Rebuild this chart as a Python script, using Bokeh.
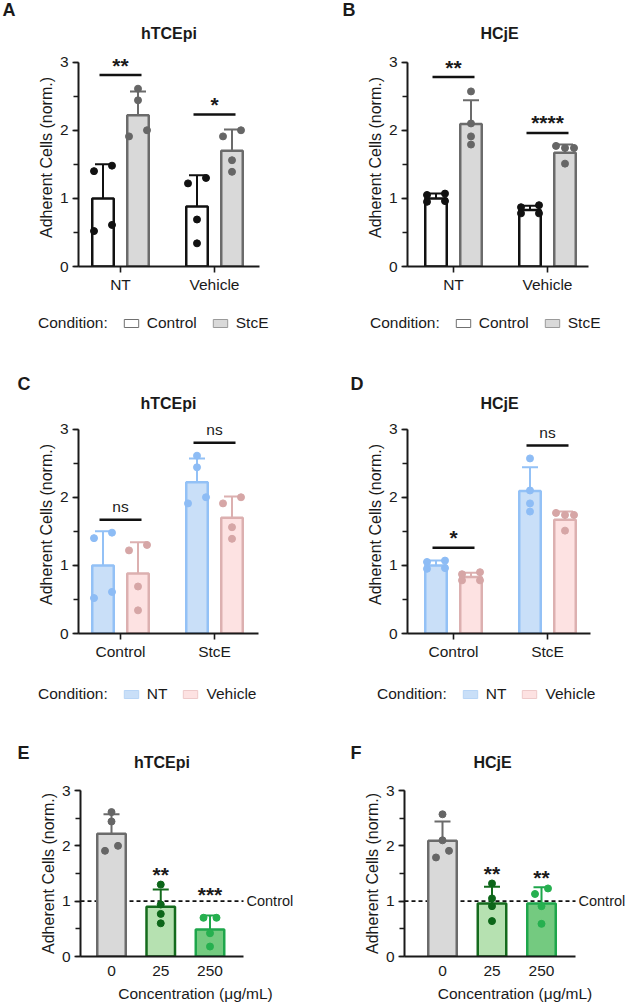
import numpy as np
from bokeh.plotting import figure
from bokeh.models import (Range1d, FixedTicker, SingleIntervalTicker, Legend, LegendItem)
from bokeh.layouts import row, column
from bokeh.embed import file_html
from bokeh.resources import INLINE
from bokeh.core.properties import value

# ---------------- data ----------------
conditions = ["NT", "Vehicle"]
treatments = ["Control", "StcE"]
concentrations = ["0", "25", "250"]

# hTCEpi, indexed by condition (NT, Vehicle)
htce_control_mean = [1.00, 0.88]
htce_control_sd = [0.50, 0.46]
htce_control_pts = [[1.40, 1.48, 0.52, 0.61], [1.22, 1.30, 0.69, 0.34]]
htce_stce_mean = [2.22, 1.70]
htce_stce_sd = [0.35, 0.31]
htce_stce_pts = [[2.61, 2.44, 1.91, 2.00], [1.91, 2.00, 1.56, 1.39]]

# HCjE, indexed by condition (NT, Vehicle)
hcje_control_mean = [1.00, 0.83]
hcje_control_sd = [0.07, 0.06]
hcje_control_pts = [[1.05, 1.07, 0.95, 0.96], [0.87, 0.90, 0.78, 0.78]]
hcje_stce_mean = [2.09, 1.67]
hcje_stce_sd = [0.35, 0.12]
hcje_stce_pts = [[2.57, 2.10, 1.91, 1.79], [1.77, 1.74, 1.74, 1.51]]

# significance marks
htce_cond_sig = ["**", "*"]
htce_cond_sig_y = [2.81, 2.23]
hcje_cond_sig = ["**", "****"]
hcje_cond_sig_y = [2.78, 1.96]
htce_treat_sig = ["ns", "ns"]
htce_treat_sig_y = [1.67, 2.80]
hcje_treat_sig = ["*", "ns"]
hcje_treat_sig_y = [1.26, 2.76]

# dose response (25, 250 ug/mL); the 0 bar is the StcE / NT data
htce_dose_mean = [0.90, 0.49]
htce_dose_sd = [0.31, 0.25]
htce_dose_pts = [[1.30, 0.94, 0.77, 0.60], [0.70, 0.70, 0.42, 0.18]]
htce_dose_sig = ["**", "***"]
htce_dose_sig_y = [1.52, 1.15]
hcje_dose_mean = [0.96, 0.96]
hcje_dose_sd = [0.30, 0.29]
hcje_dose_pts = [[1.32, 1.05, 0.91, 0.64], [1.13, 1.23, 0.91, 0.59]]
hcje_dose_sig = ["**", "**"]
hcje_dose_sig_y = [1.53, 1.46]
control_level = 1.0

# ---------------- styles ----------------
FONT = "Liberation Sans"
TXT = "#1a1a1a"
FS = "15.5px"
S_CTRL = dict(fill="#ffffff", line="#111111", pt="#111111", sw_line="#707070")
S_STCE = dict(fill="#d9d9d9", line="#6b6b6b", pt="#666666", sw_line="#9a9a9a")
S_NT = dict(fill="#c9dff8", line="#93c1f6", pt="#8dbcf5", sw_line="#b8d5f6")
S_VEH = dict(fill="#fde2e2", line="#dcb0b0", pt="#d6a6a6", sw_line="#eecaca")
S_D25 = dict(fill="#b6e1b1", line="#146b1d", pt="#0c6619")
S_D250 = dict(fill="#74ca80", line="#1ea64b", pt="#26b04f")
S_BLANK = dict(fill="#ffffff", sw_line="#ffffff", alpha=0)

# layout (page pixels): column x-origin/width, plot top/height, frame edges, tick positions
GEO = {
    "A": dict(ox=0, W=310, oy=48, H=252, L=78, R=259, FR=259, T=48, B=266, ticks=[120, 214]),
    "B": dict(ox=310, W=315, oy=48, H=252, L=407, R=588, FR=588, T=48, B=266, ticks=[453, 547]),
    "C": dict(ox=0, W=310, oy=415, H=261, L=78, R=258, FR=258, T=415, B=633, ticks=[120, 214]),
    "D": dict(ox=310, W=315, oy=415, H=261, L=407, R=590, FR=590, T=415, B=633, ticks=[453, 547]),
    "E": dict(ox=0, W=310, oy=782, H=224, L=80, R=243, FR=310, T=790, B=956,
              ticks=[111, 160.5, 209.5]),
    "F": dict(ox=310, W=315, oy=782, H=224, L=404, R=575, FR=625, T=790, B=956,
              ticks=[442, 491.5, 541]),
}


def no_align(p):
    try:
        p.frame_align = False
    except Exception:
        pass
    return p


def swarm(vals, ppy, step_units, thresh_px=7.0):
    order = sorted(range(len(vals)), key=lambda k: vals[k])
    clusters = []
    for k in order:
        if clusters and (vals[k] - vals[clusters[-1][-1]]) * ppy < thresh_px:
            clusters[-1].append(k)
        else:
            clusters.append([k])
    offs = [0.0] * len(vals)
    for c in clusters:
        n = len(c)
        if n == 1:
            continue
        if n % 2 == 0:
            pat = [-1, 1] * (n // 2)
        else:
            pat = [0, 1, -1] + [-1, 1] * ((n - 3) // 2)
        for k, s in zip(c, pat):
            offs[k] = s * step_units
    return offs


def blank_fig(W, H, xr=(0, 1), yr=(0, 1)):
    p = figure(width=W, height=H, x_range=Range1d(*xr), y_range=Range1d(*yr), title=None,
               x_axis_type=None, y_axis_type=None, output_backend="svg",
               toolbar_location=None, min_border=0)
    p.outline_line_color = None
    p.background_fill_color = "white"
    p.border_fill_color = "white"
    return no_align(p)


def header(W, H, letter, lx, ly, title, tx, ty):
    p = blank_fig(W, H, (0, W), (H, 0))
    p.text(x=[lx], y=[ly], text=[letter], text_font=value(FONT), text_font_size="18px",
           text_font_style="bold", text_align="left", text_baseline="middle", text_color=TXT)
    p.text(x=[tx], y=[ty], text=[title], text_font=value(FONT), text_font_size="16px",
           text_font_style="bold", text_align="center", text_baseline="middle", text_color=TXT)
    return p


def footer(W, H, left, labels, styles):
    p = blank_fig(W, H)
    items = []
    for lab, s in zip(["Condition:"] + labels, [S_BLANK] + styles):
        alpha = s.get("alpha", 1)
        r = p.vbar(x=np.array([np.nan]), top=np.array([np.nan]), width=0.1,
                   fill_color=s["fill"], line_color=s["sw_line"], line_width=1,
                   fill_alpha=alpha, line_alpha=alpha)
        items.append(LegendItem(label=lab, renderers=[r]))
    leg = Legend(items=items, orientation="horizontal", location="left", margin=left,
                 glyph_width=18, glyph_height=10, label_standoff=7, spacing=14,
                 padding=0, border_line_alpha=0, background_fill_alpha=0,
                 label_text_font=FONT, label_text_font_size=FS, label_text_color=TXT,
                 label_height=10)
    p.add_layout(leg)
    return p


def make_panel(key, labels, ymax, xticks_out):
    g = GEO[key]
    t = g["ticks"]
    ppx = (t[-1] - t[0]) / (len(t) - 1)
    x0 = -(t[0] - g["L"]) / ppx
    x_axis_end = x0 + (g["R"] - g["L"]) / ppx
    x1 = x0 + (g["FR"] - g["L"]) / ppx
    ppy = (g["B"] - g["T"]) / ymax
    p = figure(width=g["W"], height=g["H"], x_range=Range1d(x0, x1), y_range=Range1d(0, ymax),
               title=None, output_backend="svg", toolbar_location=None,
               min_border_left=g["L"] - g["ox"], min_border_right=g["ox"] + g["W"] - g["FR"],
               min_border_top=g["T"] - g["oy"], min_border_bottom=g["oy"] + g["H"] - g["B"])
    no_align(p)
    p.outline_line_color = None
    p.xgrid.visible = False
    p.ygrid.visible = False
    p.background_fill_color = "white"
    p.border_fill_color = "white"
    for ax in (p.xaxis[0], p.yaxis[0]):
        ax.axis_line_width = 2
        ax.axis_line_color = TXT
        ax.major_tick_line_width = 1.6
        ax.major_tick_line_color = TXT
        ax.minor_tick_line_width = 1.6
        ax.minor_tick_line_color = TXT
        ax.major_tick_in = 0
        ax.minor_tick_in = 0
        ax.major_label_text_font = FONT
        ax.major_label_text_font_size = FS
        ax.major_label_text_color = TXT
        ax.axis_label_text_font = FONT
        ax.axis_label_text_font_size = FS
        ax.axis_label_text_font_style = "normal"
        ax.axis_label_text_color = TXT
    ya = p.yaxis[0]
    ya.ticker = SingleIntervalTicker(interval=1, num_minor_ticks=2)
    ya.bounds = (0, 3)
    ya.major_tick_out = 6
    ya.minor_tick_out = 5
    ya.major_label_standoff = 4
    ya.axis_label = "Adherent Cells (norm.)"
    ya.axis_label_text_font_size = "16px"
    ya.axis_label_standoff = 2
    xa = p.xaxis[0]
    xa.ticker = FixedTicker(ticks=list(range(len(labels))), minor_ticks=[])
    xa.major_label_overrides = {i: lab for i, lab in enumerate(labels)}
    xa.major_tick_out = xticks_out
    xa.major_label_standoff = 3 if xticks_out else 9
    xa.bounds = (x0, x_axis_end)
    return p, ppx, ppy, x0, x_axis_end


def draw_series(p, xs, means, sds, pts, style, bw, capw, ppy, step):
    tops = [m + s for m, s in zip(means, sds)]
    p.vbar(x=xs, top=means, bottom=0, width=bw, fill_color=style["fill"],
           line_color=style["line"], line_width=2.5)
    p.segment(x0=xs, y0=means, x1=xs, y1=tops, line_color=style["line"], line_width=2)
    p.segment(x0=[x - capw / 2 for x in xs], y0=tops, x1=[x + capw / 2 for x in xs], y1=tops,
              line_color=style["line"], line_width=2)
    px, py = [], []
    for x, vals in zip(xs, pts):
        for o, v in zip(swarm(vals, ppy, step), vals):
            px.append(x + o)
            py.append(v)
    p.scatter(px, py, size=7, marker="circle", fill_color=style["pt"], line_color=style["pt"])


def grouped_plot(key, labels, s1, s2, sig, sig_y):
    p, ppx, ppy, x0, xe = make_panel(key, labels, 3.2, 6)
    d = 17.5 / ppx
    bw = 21.5 / ppx
    capw = 16 / ppx
    step = 9 / ppx
    n = len(labels)
    draw_series(p, [i - d for i in range(n)], s1[0], s1[1], s1[2], s1[3], bw, capw, ppy, step)
    draw_series(p, [i + d for i in range(n)], s2[0], s2[1], s2[2], s2[3], bw, capw, ppy, step)
    ext = 3.5 / ppx
    p.segment(x0=[i - d - ext for i in range(n)], y0=sig_y, x1=[i + d + ext for i in range(n)],
              y1=sig_y, line_color="#111111", line_width=2.5)
    stars = [k for k in range(n) if sig[k] != "ns"]
    nss = [k for k in range(n) if sig[k] == "ns"]
    if stars:
        p.text(x=stars, y=[sig_y[k] for k in stars], text=[sig[k] for k in stars],
               text_font=value(FONT), text_font_size="21px", text_font_style="bold",
               text_align="center", text_baseline="alphabetic", y_offset=-10, text_color=TXT)
    if nss:
        p.text(x=nss, y=[sig_y[k] for k in nss], text=[sig[k] for k in nss],
               text_font=value(FONT), text_font_size=FS, text_align="center",
               text_baseline="alphabetic", y_offset=-13, text_color=TXT)
    return p


def dose_plot(key, base_mean, base_sd, base_pts, mean, sd, pts, sig, sig_y):
    p, ppx, ppy, x0, xe = make_panel(key, concentrations, 3.0, 0)
    p.xaxis[0].axis_label = "Concentration (\u03bcg/mL)"
    p.xaxis[0].axis_label_standoff = 6
    bw = 28.5 / ppx
    capw = 16 / ppx
    step = 6.5 / ppx
    p.segment(x0=[x0], y0=[control_level], x1=[xe], y1=[control_level], line_color="#111111",
              line_width=1.8, line_dash="4 3")
    draw_series(p, [0], [base_mean], [base_sd], [base_pts], S_STCE, bw, capw, ppy, step)
    draw_series(p, [1], [mean[0]], [sd[0]], [pts[0]], S_D25, bw, capw, ppy, step)
    draw_series(p, [2], [mean[1]], [sd[1]], [pts[1]], S_D250, bw, capw, ppy, step)
    p.text(x=[1, 2], y=sig_y, text=sig, text_font=value(FONT), text_font_size="21px",
           text_font_style="bold", text_align="center", text_baseline="middle", y_offset=2,
           text_color=TXT)
    p.text(x=[xe], y=[control_level], text=["Control"], x_offset=3, text_font=value(FONT),
           text_font_size="14.5px", text_align="left", text_baseline="middle", text_color=TXT)
    return p


# ---------------- panels ----------------
pA = grouped_plot("A", conditions,
                  (htce_control_mean, htce_control_sd, htce_control_pts, S_CTRL),
                  (htce_stce_mean, htce_stce_sd, htce_stce_pts, S_STCE),
                  htce_cond_sig, htce_cond_sig_y)
pB = grouped_plot("B", conditions,
                  (hcje_control_mean, hcje_control_sd, hcje_control_pts, S_CTRL),
                  (hcje_stce_mean, hcje_stce_sd, hcje_stce_pts, S_STCE),
                  hcje_cond_sig, hcje_cond_sig_y)
pC = grouped_plot("C", treatments,
                  ([htce_control_mean[0], htce_stce_mean[0]], [htce_control_sd[0], htce_stce_sd[0]],
                   [htce_control_pts[0], htce_stce_pts[0]], S_NT),
                  ([htce_control_mean[1], htce_stce_mean[1]], [htce_control_sd[1], htce_stce_sd[1]],
                   [htce_control_pts[1], htce_stce_pts[1]], S_VEH),
                  htce_treat_sig, htce_treat_sig_y)
pD = grouped_plot("D", treatments,
                  ([hcje_control_mean[0], hcje_stce_mean[0]], [hcje_control_sd[0], hcje_stce_sd[0]],
                   [hcje_control_pts[0], hcje_stce_pts[0]], S_NT),
                  ([hcje_control_mean[1], hcje_stce_mean[1]], [hcje_control_sd[1], hcje_stce_sd[1]],
                   [hcje_control_pts[1], hcje_stce_pts[1]], S_VEH),
                  hcje_treat_sig, hcje_treat_sig_y)
pE = dose_plot("E", htce_stce_mean[0], htce_stce_sd[0], htce_stce_pts[0],
               htce_dose_mean, htce_dose_sd, htce_dose_pts, htce_dose_sig, htce_dose_sig_y)
pF = dose_plot("F", hcje_stce_mean[0], hcje_stce_sd[0], hcje_stce_pts[0],
               hcje_dose_mean, hcje_dose_sd, hcje_dose_pts, hcje_dose_sig, hcje_dose_sig_y)

hA = header(310, 48, "A", 2, 9, "hTCEpi", 168.5, 33)
hB = header(315, 48, "B", 32, 9, "HCjE", 189, 33)
hC = header(310, 69, "C", 17, 37, "hTCEpi", 168, 56.5)
hD = header(315, 69, "D", 40, 37, "HCjE", 189, 56.5)
hE = header(310, 70, "E", 17, 40, "hTCEpi", 161.5, 49.5)
hF = header(315, 70, "F", 40, 40, "HCjE", 182, 50)

fA = footer(310, 46, 13, treatments, [S_CTRL, S_STCE])
fB = footer(315, 46, 35, treatments, [S_CTRL, S_STCE])
fC = footer(310, 36, 13, conditions, [S_NT, S_VEH])
fD = footer(315, 36, 42, conditions, [S_NT, S_VEH])

layout = column(
    row(column(hA, pA, fA), column(hB, pB, fB)),
    row(column(hC, pC, fC), column(hD, pD, fD)),
    row(column(hE, pE), column(hF, pF)),
)
open("out.html", "w").write(file_html(layout, INLINE))
